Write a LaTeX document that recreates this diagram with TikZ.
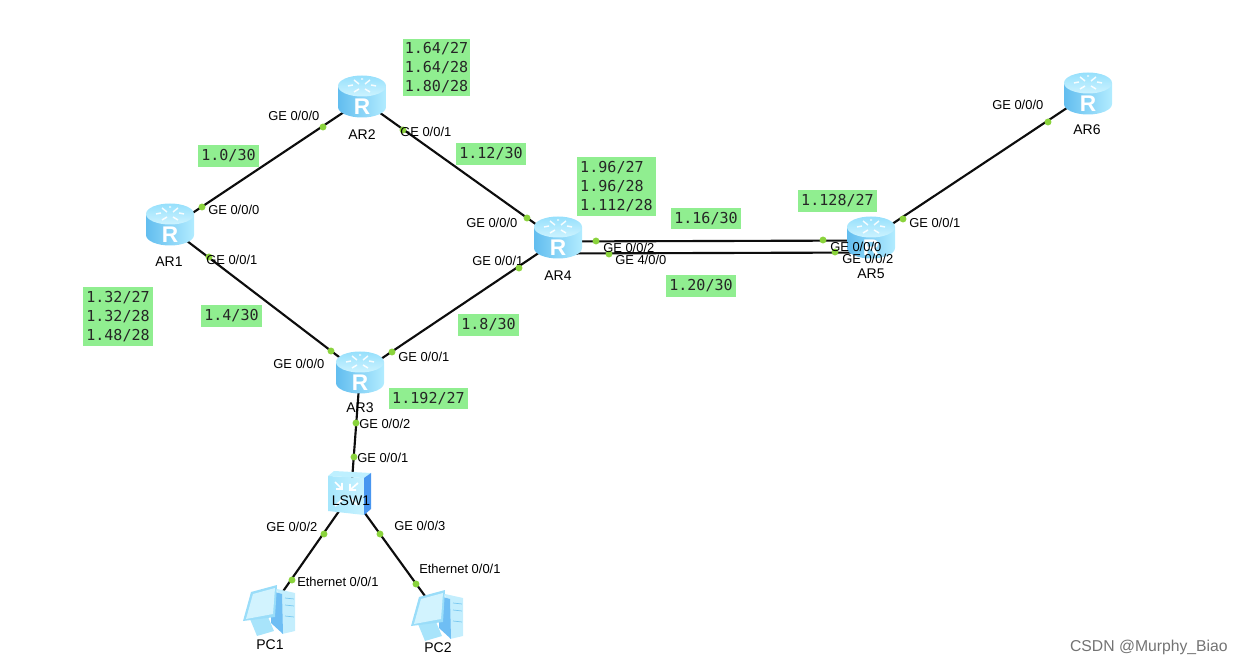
\documentclass[tikz,border=0pt]{standalone}
\usepackage{fontspec}
\setmainfont{Liberation Sans}
\newfontfamily\monof{DejaVu Sans Mono}
\definecolor{lg}{HTML}{90EE90}
\definecolor{dotg}{HTML}{8AD33C}
\definecolor{ra}{HTML}{62BDEF}
\definecolor{rb}{HTML}{87D6FA}
\definecolor{rc}{HTML}{B2ECFF}
\definecolor{rd}{HTML}{96E0FC}
\definecolor{re}{HTML}{CDF3FF}
\definecolor{sa}{HTML}{A5E6FC}
\definecolor{sb}{HTML}{C8F2FF}
\definecolor{sc}{HTML}{BEF0FF}
\definecolor{sd}{HTML}{4896F0}
\definecolor{pa}{HTML}{C4EEFD}
\definecolor{pb}{HTML}{6FBEF4}
\definecolor{pc}{HTML}{A8E4FB}
\definecolor{pd}{HTML}{9ADDF9}
\definecolor{pe}{HTML}{D2F3FE}
\definecolor{pf}{HTML}{78C8F0}
\tikzset{
  dev/.style={inner sep=0pt,minimum size=2pt},
  port/.style={circle,fill=dotg,inner sep=0pt,minimum size=5.2pt},
  link/.style={line width=1.6pt,black!95},
  lab/.style={anchor=west,inner sep=0pt,font=\fontsize{9.7}{11}\selectfont,text=black},
  devname/.style={inner sep=0pt,font=\fontsize{10.5}{12}\selectfont,text=black},
  addr/.style={fill=lg,inner sep=0pt,align=left,text=black!85,font=\monof\fontsize{11.3}{14.4}\selectfont},
  router/.pic={
    \path[left color=ra,middle color=rb,right color=rc]
      (-24,-11) -- (-24,10) arc[start angle=180,end angle=0,x radius=24,y radius=10.5] -- (24,-11) -- cycle;
    \path[top color=rd,bottom color=re] (0,-11) ellipse[x radius=24,y radius=10.5];
    \draw[white,line width=1.1pt,opacity=.9] (-3,-13)--(-8,-17) (3,-13)--(8,-17) (-3,-8)--(-8,-5) (3,-8)--(8,-5) (-9,-12)--(-14,-11) (9,-12)--(14,-11) (-1,-18)--(1,-18);
    \node[white,font=\bfseries\fontsize{17}{17}\selectfont,inner sep=0pt] at (0,10) {R};
  },
  switchicon/.pic={
    \path[left color=sa,right color=sb] (-22,-18)--(14,-16)--(14,21)--(-22,17)--cycle;
    \fill[sc] (-22,-18)--(-16,-23)--(21,-21)--(14,-16)--cycle;
    \fill[sd] (14,-16)--(21,-21)--(21,15)--(14,21)--cycle;
    \draw[white,line width=1.3pt] (-15,-12)--(-8,-5) (-8,-11)--(-8,-5)--(-14,-5) (8,-11)--(0,-4) (0,-10)--(0,-4)--(6,-4) (-15,12)--(-7,5) (7,11)--(0,4);
  },
  pcicon/.pic={
    \fill[pa] (33,4)--(51,8)--(51,46)--(38,49)--cycle;
    \fill[pb] (27,6)--(38,9)--(39,49)--(27,38)--cycle;
    \fill[pc] (6,34)--(24,32)--(30,46)--(13,51)--cycle;
    \fill[pd] (7,7)--(33,0)--(31,32)--(-1,36)--cycle;
    \fill[pe] (9,9)--(31,3)--(29,29)--(2,34)--cycle;
    \draw[pf,line width=.5pt] (41,13)--(50,14) (41,20)--(50,21) (41,31)--(50,32);
  }
}
\begin{document}
\begin{tikzpicture}[x=0.75pt,y=-0.75pt]
\useasboundingbox (0,0) rectangle (1243,666);
% devices
\node[dev] (AR1) at (170,228) {};
\node[dev] (AR2) at (362,100) {};
\node[dev] (AR3) at (360,373) {};
\node[dev] (AR4) at (558,240) {};
\node[dev] (AR5) at (871,238) {};
\node[dev] (AR6) at (1088,94) {};
\node[dev] (LSW) at (351,494) {};
\node[dev] (PC1) at (270,610) {};
\node[dev] (PC2) at (438,614) {};
\coordinate (R4a) at (558,241.5);
\coordinate (R5a) at (871,240.5);
\coordinate (R4b) at (558,253.5);
\coordinate (R5b) at (871,252.5);
% links
\draw[link] (AR1) -- (AR2);
\draw[link] (AR2) -- (AR4);
\draw[link] (AR1) -- (AR3);
\draw[link] (AR3) -- (AR4);
\draw[link] (R4a) -- (R5a);
\draw[link] (R4b) -- (R5b);
\draw[link] (AR5) -- (AR6);
\draw[link] (AR3) -- (LSW);
\draw[link] (LSW) -- (PC1);
\draw[link] (LSW) -- (PC2);
% icons
\pic at (170,225) {router};
\pic at (362,97) {router};
\pic at (360,373) {router};
\pic at (558,238) {router};
\pic at (871,238) {router};
\pic at (1088,94) {router};
\pic at (350,494) {switchicon};
\pic at (244,585) {pcicon};
\pic at (412,590) {pcicon};
% ports
\node[port] (p1) at (202,207) {};
\node[port] (p2) at (323,127) {};
\node[port] (p3) at (403,130) {};
\node[port] (p4) at (527,218) {};
\node[port] (p5) at (519,268) {};
\node[port] (p6) at (596,241) {};
\node[port] (p7) at (609,254) {};
\node[port] (p8) at (823,240) {};
\node[port] (p9) at (835,252) {};
\node[port] (p10) at (903,219) {};
\node[port] (p11) at (1048,122) {};
\node[port] (p12) at (331,351) {};
\node[port] (p13) at (392,352) {};
\node[port] (p14) at (209,257) {};
\node[port] (p15) at (356,423) {};
\node[port] (p16) at (354,457) {};
\node[port] (p17) at (324,534) {};
\node[port] (p18) at (380,534) {};
\node[port] (p19) at (292,580) {};
\node[port] (p20) at (416,584) {};
% port labels
\node[lab] (l1) at (208,210) {GE 0/0/0};
\node[lab] (l2) at (268,116) {GE 0/0/0};
\node[lab] (l3) at (400,132) {GE 0/0/1};
\node[lab] (l4) at (466,223) {GE 0/0/0};
\node[lab] (l5) at (472,261) {GE 0/0/1};
\node[lab] (l6) at (603,248) {GE 0/0/2};
\node[lab] (l7) at (615,260) {GE 4/0/0};
\node[lab] (l8) at (830,247) {GE 0/0/0};
\node[lab] (l9) at (842,259) {GE 0/0/2};
\node[lab] (l10) at (909,223) {GE 0/0/1};
\node[lab] (l11) at (992,105) {GE 0/0/0};
\node[lab] (l12) at (273,364) {GE 0/0/0};
\node[lab] (l13) at (398,357) {GE 0/0/1};
\node[lab] (l14) at (206,260) {GE 0/0/1};
\node[lab] (l15) at (359,424) {GE 0/0/2};
\node[lab] (l16) at (357,458) {GE 0/0/1};
\node[lab] (l17) at (266,527) {GE 0/0/2};
\node[lab] (l18) at (394,526) {GE 0/0/3};
\node[lab] (l19) at (297,582) {Ethernet 0/0/1};
\node[lab] (l20) at (419,569) {Ethernet 0/0/1};
% device names
\node[devname] (n1) at (169,262) {AR1};
\node[devname] (n2) at (362,135) {AR2};
\node[devname] (n3) at (360,408) {AR3};
\node[devname] (n4) at (558,276) {AR4};
\node[devname] (n5) at (871,274) {AR5};
\node[devname] (n6) at (1087,130) {AR6};
\node[devname] (n7) at (351,501) {LSW1};
\node[devname] (n8) at (270,645) {PC1};
\node[devname] (n9) at (438,648) {PC2};
% addresses
\node[addr,minimum width=50.25pt,minimum height=42.75pt] (a1) at (436.5,67.5) {1.64/27\\1.64/28\\1.80/28};
\node[addr,minimum width=45.75pt,minimum height=16.5pt] (a2) at (228.5,156) {1.0/30};
\node[addr,minimum width=52.5pt,minimum height=16.5pt] (a3) at (491,154) {1.12/30};
\node[addr,minimum width=59.25pt,minimum height=44.25pt] (a4) at (616.5,186.5) {1.96/27\\1.96/28\\1.112/28};
\node[addr,minimum width=52.5pt,minimum height=15.75pt] (a5) at (706,218.5) {1.16/30};
\node[addr,minimum width=59.25pt,minimum height=16.5pt] (a6) at (837.5,201) {1.128/27};
\node[addr,minimum width=52.5pt,minimum height=16.5pt] (a7) at (701,286) {1.20/30};
\node[addr,minimum width=45.75pt,minimum height=16.5pt] (a8) at (488.5,325) {1.8/30};
\node[addr,minimum width=45.75pt,minimum height=16.5pt] (a9) at (231.5,316) {1.4/30};
\node[addr,minimum width=52.5pt,minimum height=44.25pt] (a10) at (118,316.5) {1.32/27\\1.32/28\\1.48/28};
\node[addr,minimum width=59.25pt,minimum height=15.75pt] (a11) at (428.5,398.5) {1.192/27};
% watermark
\node[anchor=east,inner sep=0pt,text=black!55,font=\fontsize{11.8}{13}\selectfont] (wm) at (1228,647) {CSDN @Murphy\_Biao};
\end{tikzpicture}
\end{document}
